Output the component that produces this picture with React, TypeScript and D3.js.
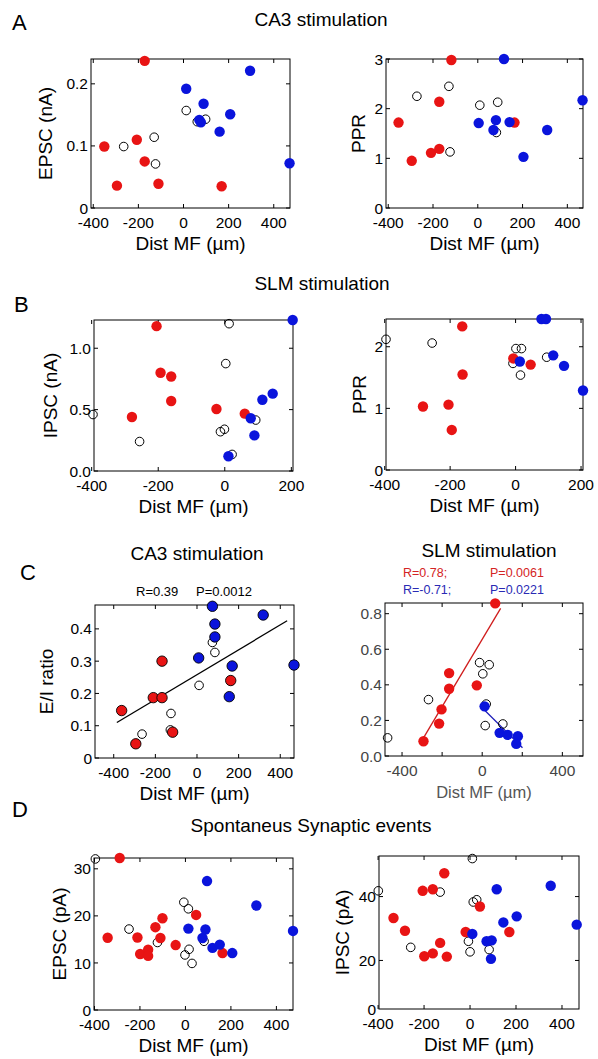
import React from 'react';
import * as d3 from 'd3';

// colours used throughout the figure
const RED = '#e81414';
const BLUE = '#0a14dc';
const FONT = '"Liberation Sans", Arial, sans-serif';

// ---- A: CA3 stimulation ----
const aEpscRed = [[-172, 0.237], [-351, 0.099], [-207, 0.110], [-172, 0.075], [-295, 0.036], [-111, 0.039], [169, 0.035]];
const aEpscBlue = [[12, 0.192], [295, 0.221], [89, 0.168], [70, 0.142], [77, 0.138], [207, 0.151], [160, 0.123], [470, 0.072]];
const aEpscOpen = [[-265, 0.099], [-130, 0.114], [-124, 0.071], [12, 0.157], [61, 0.139], [98, 0.143]];

const aPprRed = [[-118, 2.98], [-354, 1.72], [-295, 0.95], [-172, 2.14], [-209, 1.11], [-172, 1.19], [164, 1.72]];
const aPprBlue = [[117, 3.0], [4, 1.71], [81, 1.77], [70, 1.57], [142, 1.73], [204, 1.03], [310, 1.57], [468, 2.17]];
const aPprOpen = [[-272, 2.25], [-129, 2.45], [-124, 1.13], [9, 2.07], [89, 2.13], [83, 1.52]];

// ---- B: SLM stimulation ----
const bIpscRed = [[-205, 1.18], [-193, 0.80], [-161, 0.77], [-161, 0.57], [-279, 0.44], [-25, 0.505], [60, 0.467]];
const bIpscBlue = [[204, 1.23], [144, 0.63], [113, 0.58], [78, 0.43], [89, 0.29], [11, 0.12]];
const bIpscOpen = [[13, 1.20], [3, 0.875], [-396, 0.46], [-256, 0.24], [-13, 0.32], [-1, 0.34], [93, 0.415], [22, 0.135]];

const bPprRed = [[-163, 2.33], [-162, 1.55], [-283, 1.03], [-205, 1.06], [-195, 0.65], [-7, 1.81], [46, 1.71]];
const bPprBlue = [[79, 2.45], [93, 2.45], [13, 1.76], [115, 1.86], [148, 1.69], [206, 1.29]];
const bPprOpen = [[-396, 2.12], [-255, 2.06], [1, 1.97], [18, 1.97], [-8, 1.73], [15, 1.54], [95, 1.83]];

// ---- C: E/I ratio ----
const cCa3Red = [[-168, 0.30], [-210, 0.187], [-168, 0.187], [162, 0.24], [-362, 0.147], [-294, 0.044], [-117, 0.08]];
const cCa3Blue = [[74, 0.47], [86, 0.415], [86, 0.375], [8, 0.31], [318, 0.443], [169, 0.285], [466, 0.288], [155, 0.19]];
const cCa3Open = [[74, 0.358], [86, 0.327], [10, 0.225], [-125, 0.138], [-264, 0.074], [-128, 0.087]];
const cCa3Fit = [[-385, 0.11], [433, 0.425]];

const cSlmRed = [[65, 0.858], [-165, 0.466], [-165, 0.378], [-27, 0.397], [-203, 0.262], [-293, 0.083], [-215, 0.182]];
const cSlmBlue = [[12, 0.279], [87, 0.13], [127, 0.119], [178, 0.111], [170, 0.068]];
const cSlmOpen = [[-13, 0.525], [35, 0.513], [3, 0.462], [-268, 0.317], [20, 0.292], [-472, 0.102], [15, 0.171], [103, 0.18]];
const cSlmRedFit = [[-293, 0.102], [92, 0.83]];
const cSlmBlueFit = [[1, 0.27], [201, 0.046]];

// ---- D: spontaneous events ----
const dEpscRed = [[-289, 32.3], [-342, 15.35], [-211, 15.4], [-199, 11.9], [-164, 12.8], [-164, 11.5], [-132, 17.6], [-101, 19.5], [-110, 15.3], [-43, 13.8], [47, 20.2], [163, 12.1]];
const dEpscBlue = [[95, 27.4], [312, 22.2], [473, 16.8], [13, 17.3], [88, 17.1], [75, 15.3], [119, 13.2], [151, 13.9], [206, 12.1]];
const dEpscOpen = [[-396, 32.1], [-248, 17.2], [-123, 14.35], [-7, 22.9], [13, 21.5], [16, 12.9], [-2, 11.7], [29, 9.9], [82, 14.6]];

const dIpscRed = [[-333, 33.3], [-283, 29.3], [-206, 41.8], [-162, 42.3], [-112, 47.3], [-199, 21.3], [-162, 22.2], [-130, 25.5], [-101, 21.2], [-19, 28.9], [43, 36.9], [171, 28.9]];
const dIpscBlue = [[116, 42.3], [10, 28.3], [145, 31.9], [203, 33.8], [351, 43.4], [464, 31.2], [72, 26], [94, 26.3], [91, 20.5]];
const dIpscOpen = [[10, 51.9], [-399, 41.8], [-130, 41.4], [-258, 24.1], [14, 38.3], [29, 39], [-7, 26], [0, 22.7], [83, 23.4]];

// ticks
const xTicksWide = [-400, -200, 0, 200, 400];
const xTicksNarrow = [-400, -200, 0, 200];
const xLabelsSlm = [-400, 0, 400];
const yTicksEpscA = [0, 0.1, 0.2];
const yTicksPprA = [0, 1, 2, 3];
const yTicksIpscB = [0, 0.5, 1.0];
const yTicksPprB = [0, 1, 2];
const yTicksRatioCa3 = [0, 0.1, 0.2, 0.3, 0.4];
const yTicksRatioSlm = [0, 0.2, 0.4, 0.6, 0.8];
const yTicksEpscD = [0, 10, 20, 30];
const yTicksIpscD = [20, 40];

type Pt = number[];

function Panel(p: any) {
  const x = d3.scaleLinear().domain(p.xDomain).range([p.x0, p.x1]);
  const y = d3.scaleLinear().domain(p.yDomain).range([p.y1, p.y0]);
  const tl = 4;
  const tc = p.textColor || '#000';
  const xTickMarks = p.xTickMarks || p.xTicks;
  const yFmt = p.yFormat || ((v: number) => String(v));
  const line = d3.line<Pt>().x(d => x(d[0])).y(d => y(d[1]));
  const edge = p.edge ? '#000' : 'none';
  return (
    <g>
      {/* box */}
      <rect x={p.x0} y={p.y0} width={p.x1 - p.x0} height={p.y1 - p.y0} fill="none" stroke="#000" strokeWidth={1} />
      {xTickMarks.map((t: number) => (
        <g key={'xt' + t}>
          <line x1={x(t)} x2={x(t)} y1={p.y1} y2={p.y1 - tl} stroke="#000" />
          <line x1={x(t)} x2={x(t)} y1={p.y0} y2={p.y0 + tl} stroke="#000" />
        </g>
      ))}
      {p.xTicks.map((t: number) => (
        <text key={'xl' + t} x={x(t)} y={p.y1 + 20} textAnchor="middle" fontSize={15.5} fill={tc}>{t}</text>
      ))}
      {p.yTicks.map((t: number) => (
        <g key={'yt' + t}>
          <line x1={p.x0} x2={p.x0 + tl} y1={y(t)} y2={y(t)} stroke="#000" />
          <line x1={p.x1} x2={p.x1 - tl} y1={y(t)} y2={y(t)} stroke="#000" />
          <text x={p.x0 - 3} y={y(t)} dy="0.36em" textAnchor="end" fontSize={15.5} fill={tc}>{yFmt(t)}</text>
        </g>
      ))}
      {p.yExtraLabel && (
        <text x={p.x0 - 3} y={p.y1} dy="0.36em" textAnchor="end" fontSize={15.5} fill={tc}>{p.yExtraLabel}</text>
      )}
      <text x={(p.x0 + p.x1) / 2} y={p.y1 + 42} textAnchor="middle" fontSize={p.xLabelSize || 19} fill={p.xLabelColor || '#000'}>Dist MF (µm)</text>
      {p.yLabel && (
        <text transform={`translate(${p.yLabelX},${(p.y0 + p.y1) / 2}) rotate(-90)`} textAnchor="middle" fontSize={19}>{p.yLabel}</text>
      )}
      {(p.fits || []).map((f: any, i: number) => (
        <path key={'f' + i} d={line(f.pts) || ''} fill="none" stroke={f.color} strokeWidth={1.3} />
      ))}
      {p.open.map((d: Pt, i: number) => (
        <circle key={'o' + i} cx={x(d[0])} cy={y(d[1])} r={4.3} fill="none" stroke="#000" strokeWidth={1} />
      ))}
      {p.red.map((d: Pt, i: number) => (
        <circle key={'r' + i} cx={x(d[0])} cy={y(d[1])} r={5.2} fill={RED} stroke={edge} strokeWidth={0.9} />
      ))}
      {p.blue.map((d: Pt, i: number) => (
        <circle key={'b' + i} cx={x(d[0])} cy={y(d[1])} r={5.2} fill={BLUE} stroke={edge} strokeWidth={0.9} />
      ))}
    </g>
  );
}

export default function App() {
  const one = (v: number) => v.toFixed(1);
  return (
    <svg width={598} height={1059} style={{ position: 'absolute', left: 0, top: 0, background: '#fff' }} fontFamily={FONT}>
      <rect width={598} height={1059} fill="#fff" />
      {/* A */}
      <text x={12} y={30} fontSize={22}>A</text>
      <text x={321} y={26} textAnchor="middle" fontSize={19}>CA3 stimulation</text>
      <Panel x0={91} x1={290} y0={59} y1={208} xDomain={[-410, 472]} yDomain={[0, 0.24]}
        xTicks={xTicksWide} yTicks={yTicksEpscA} yLabel="EPSC (nA)" yLabelX={52}
        open={aEpscOpen} red={aEpscRed} blue={aEpscBlue} />
      <Panel x0={386} x1={583} y0={59} y1={208} xDomain={[-410, 470]} yDomain={[0, 3]}
        xTicks={xTicksWide} yTicks={yTicksPprA} yLabel="PPR" yLabelX={365}
        open={aPprOpen} red={aPprRed} blue={aPprBlue} />

      {/* B */}
      <text x={14} y={312} fontSize={22}>B</text>
      <text x={322} y={290} textAnchor="middle" fontSize={19}>SLM stimulation</text>
      <Panel x0={94} x1={293} y0={320} y1={471} xDomain={[-393, 205]} yDomain={[0, 1.23]}
        xTicks={xTicksNarrow} yTicks={yTicksIpscB} yFormat={one} yLabel="IPSC (nA)" yLabelX={57}
        open={bIpscOpen} red={bIpscRed} blue={bIpscBlue} />
      <Panel x0={386} x1={583} y0={319} y1={470} xDomain={[-396, 206]} yDomain={[0, 2.45]}
        xTicks={xTicksNarrow} yTicks={yTicksPprB} yLabel="PPR" yLabelX={366}
        open={bPprOpen} red={bPprRed} blue={bPprBlue} />

      {/* C */}
      <text x={20} y={580} fontSize={22}>C</text>
      <text x={197} y={560} textAnchor="middle" fontSize={19}>CA3 stimulation</text>
      <text x={136} y={596} fontSize={13}>R=0.39</text>
      <text x={196} y={596} fontSize={13}>P=0.0012</text>
      <Panel x0={95} x1={294} y0={605} y1={758} xDomain={[-490, 466]} yDomain={[0, 0.474]}
        xTicks={xTicksWide} yTicks={yTicksRatioCa3} yLabel="E/I ratio" yLabelX={53} edge
        fits={[{ pts: cCa3Fit, color: '#000' }]}
        open={cCa3Open} red={cCa3Red} blue={cCa3Blue} />
      <text x={489} y={557} textAnchor="middle" fontSize={19}>SLM stimulation</text>
      <text x={403} y={577} fontSize={12.5} fill="#d42424">R=0.78;</text>
      <text x={490} y={577} fontSize={12.5} fill="#d42424">P=0.0061</text>
      <text x={403} y={594} fontSize={12.5} fill="#2a2ab4">R=-0.71;</text>
      <text x={490} y={594} fontSize={12.5} fill="#2a2ab4">P=0.0221</text>
      <Panel x0={385} x1={583} y0={603} y1={756} xDomain={[-485, 503]} yDomain={[0, 0.86]}
        xTicks={xLabelsSlm} xTickMarks={xTicksWide} yTicks={yTicksRatioSlm} yFormat={one}
        textColor="#444" xLabelColor="#555" xLabelSize={16.5}
        fits={[{ pts: cSlmRedFit, color: '#d01c1c' }, { pts: cSlmBlueFit, color: '#1c1cb8' }]}
        open={cSlmOpen} red={cSlmRed} blue={cSlmBlue} />

      {/* D */}
      <text x={12} y={817} fontSize={22}>D</text>
      <text x={311} y={832} textAnchor="middle" fontSize={19}>Spontaneus Synaptic events</text>
      <Panel x0={94} x1={293} y0={858} y1={1010} xDomain={[-402, 473]} yDomain={[0, 32.3]}
        xTicks={xTicksWide} yTicks={yTicksEpscD} yLabel="EPSC (pA)" yLabelX={66}
        open={dEpscOpen} red={dEpscRed} blue={dEpscBlue} />
      <Panel x0={379} x1={579} y0={856} y1={1009} xDomain={[-396, 474]} yDomain={[4.8, 52.7]}
        xTicks={xTicksWide} yTicks={yTicksIpscD} yExtraLabel="0" yLabel="IPSC (pA)" yLabelX={349}
        open={dIpscOpen} red={dIpscRed} blue={dIpscBlue} />
    </svg>
  );
}
